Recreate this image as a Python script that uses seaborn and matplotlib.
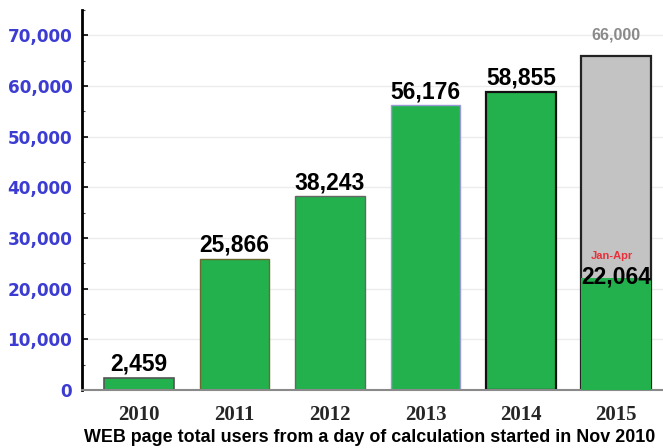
import matplotlib
matplotlib.use("Agg")
import matplotlib.pyplot as plt
from matplotlib.ticker import MultipleLocator, FuncFormatter
import seaborn as sns
import pandas as pd

# Yearly totals of web page users since counting began (Nov 2010)
years = ["2010", "2011", "2012", "2013", "2014", "2015"]
users = [2459, 25866, 38243, 56176, 58855, 66000]   # 2015 value is the projected total
bar_kind = ["actual", "actual", "actual", "actual", "actual", "projected"]
partial_year = ["2015"]
partial_users = [22064]                               # 2015 so far (Jan-Apr)
y_ticks = [0, 10000, 20000, 30000, 40000, 50000, 60000, 70000]

GREEN = "#22b14c"
GRAY = "#c3c3c3"

sns.set_theme(style="white")
plt.rcParams["font.family"] = ["Liberation Sans", "DejaVu Sans"]

df = pd.DataFrame({"year": years, "users": users, "kind": bar_kind})
df_part = pd.DataFrame({"year": partial_year, "users": partial_users})

fig = plt.figure(figsize=(6.63, 4.48), dpi=100)
ax = fig.add_axes([82 / 663, 58 / 448, (663 - 82) / 663, 380 / 448])

sns.barplot(data=df, x="year", y="users", hue="kind", order=years,
            palette={"actual": GREEN, "projected": GRAY}, dodge=False,
            width=0.73, legend=False, ax=ax, zorder=2, saturation=1)
sns.barplot(data=df_part, x="year", y="users", order=years, color=GREEN,
            width=0.73, ax=ax, zorder=3, saturation=1)

edge_colors = ["#555555", "#6a6a30", "#666666", "#9a9ad8", "#111111", "#222222"]
edge_widths = [1.2, 1.0, 1.0, 1.0, 1.6, 1.6]
for patch in ax.patches:
    if patch.get_height() <= 0:
        continue
    idx = int(round(patch.get_x() + patch.get_width() / 2))
    if patch.get_height() == partial_users[0]:
        patch.set_edgecolor("none")
        patch.set_linewidth(0)
    else:
        patch.set_edgecolor(edge_colors[idx])
        patch.set_linewidth(edge_widths[idx])

# Value labels above bars
for i, (yr, v) in enumerate(zip(years, users)):
    if bar_kind[i] == "projected":
        ax.text(i, v + 2600, f"{v:,}", ha="center", va="bottom",
                fontsize=11.5, fontweight="bold", color="#8a8a8a", zorder=5)
    else:
        ax.text(i, v + 400, f"{v:,}", ha="center", va="bottom",
                fontsize=16.5, fontweight="bold", color="black", zorder=5)

pi = years.index(partial_year[0])
ax.text(pi, partial_users[0] - 2000, f"{partial_users[0]:,}", ha="center",
        va="bottom", fontsize=16.5, fontweight="bold", color="black", zorder=5)
ax.text(pi - 0.05, partial_users[0] + 4400, "Jan-Apr", ha="center", va="center",
        fontsize=8, fontweight="bold", color="#e8303a", zorder=5)

ax.set_xlim(-0.6, 5.49)
ax.set_ylim(0, 75000)
ax.set_yticks(y_ticks)
ax.yaxis.set_minor_locator(MultipleLocator(5000))
ax.yaxis.set_major_formatter(FuncFormatter(lambda v, p: f"{int(v):,}"))
ax.grid(axis="y", color="#ececec", linewidth=1.0, zorder=0)
ax.set_axisbelow(True)

for lbl in ax.get_yticklabels():
    lbl.set_family("DejaVu Sans")
    lbl.set_fontweight("bold")
    lbl.set_fontsize(12.2)
    lbl.set_color("#3c3cd2")
ax.tick_params(axis="y", which="major", direction="in", length=4, width=1.2,
               color="black", pad=7, left=True)
ax.tick_params(axis="y", which="minor", direction="in", length=2, width=0.8,
               color="#444444", left=True)
ax.tick_params(axis="x", length=0, pad=11)
for lbl in ax.get_xticklabels():
    lbl.set_family("Liberation Serif")
    lbl.set_fontweight("bold")
    lbl.set_fontsize(15)

ax.set_xlabel("")
ax.set_ylabel("")
for s in ["top", "right"]:
    ax.spines[s].set_visible(False)
ax.spines["left"].set_color("black")
ax.spines["left"].set_linewidth(2)
ax.spines["bottom"].set_color("#8a8a8a")
ax.spines["bottom"].set_linewidth(1.5)

fig.text(0.558, 0.024, "WEB page total users from a day of calculation started in Nov 2010",
         ha="center", va="center", fontsize=12.9, fontweight="bold", color="black")

fig.savefig("out.png", dpi=100, facecolor="white")
